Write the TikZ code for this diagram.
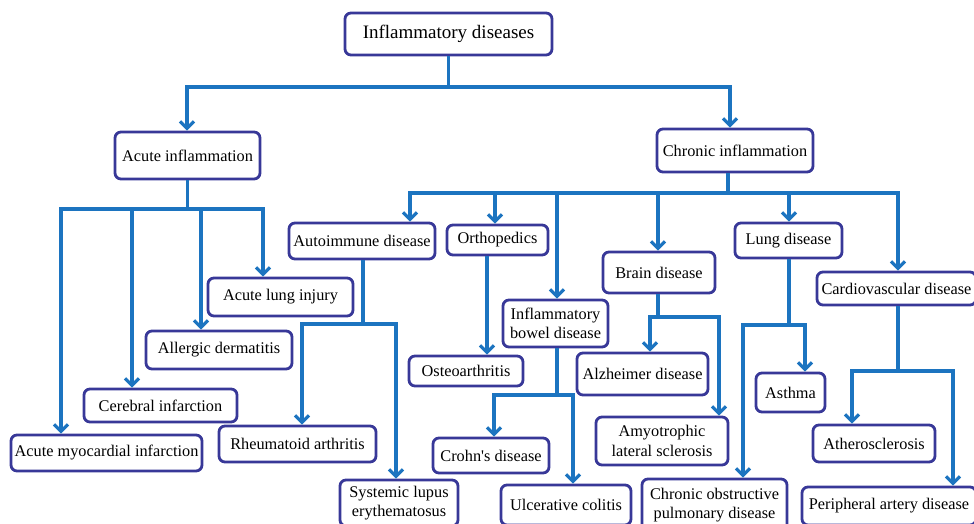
\documentclass[tikz,border=0pt]{standalone}
\usepackage{fontspec}
\setmainfont{Liberation Serif}
\usetikzlibrary{arrows.meta}
\definecolor{linkblue}{RGB}{28,116,192}
\definecolor{boxblue}{RGB}{56,56,152}
\tikzset{
  box/.style={draw=boxblue, line width=2.8pt, rounded corners=6pt, fill=white,
    inner sep=1pt, align=center, font=\fontsize{16.3}{19.5}\selectfont, text=black},
  conn/.style={draw=linkblue, line width=3.2pt},
  arr/.style={conn, -{Straight Barb[length=7pt,width=14pt]}},
  both/.style={conn, {Straight Barb[length=7pt,width=14pt]}-{Straight Barb[length=7pt,width=14pt]}}
}
\begin{document}
\begin{tikzpicture}[x=1pt,y=-1pt]
\useasboundingbox (0,0) rectangle (974,524);
\clip (0,0) rectangle (974,524);
% nodes
\node[box, minimum width=207pt, minimum height=42pt, font=\fontsize{19}{22}\selectfont] (top) at (448.5,34) {Inflammatory diseases};
\node[box, minimum width=145pt, minimum height=47pt] (acute) at (187.5,155.5) {Acute inflammation};
\node[box, minimum width=156pt, minimum height=43pt] (chronic) at (735,150.5) {Chronic inflammation};
\node[box, minimum width=146pt, minimum height=36pt] (auto) at (362,241) {Autoimmune disease};
\node[box, minimum width=101pt, minimum height=30pt] (ortho) at (497.5,240) {Orthopedics};
\node[box, minimum width=107pt, minimum height=35pt] (lung) at (788.5,240.5) {Lung disease};
\node[box, minimum width=112pt, minimum height=41pt] (brain) at (659,272.5) {Brain disease};
\node[box, minimum width=159pt, minimum height=33pt] (cardio) at (896.5,288.5) {Cardiovascular disease};
\node[box, minimum width=105pt, minimum height=47pt] (ibd) at (555.5,323.5) {Inflammatory\\bowel disease};
\node[box, minimum width=145pt, minimum height=38pt] (ali) at (280.5,297) {Acute lung injury};
\node[box, minimum width=146pt, minimum height=38pt] (allergic) at (219,350) {Allergic dermatitis};
\node[box, minimum width=153pt, minimum height=33pt] (cerebral) at (160.5,405.5) {Cerebral infarction};
\node[box, minimum width=191pt, minimum height=36pt] (ami) at (106.5,453) {Acute myocardial infarction};
\node[box, minimum width=157pt, minimum height=36pt] (rheum) at (297.5,444) {Rheumatoid arthritis};
\node[box, minimum width=118pt, minimum height=46pt] (lupus) at (399,503) {Systemic lupus\\erythematosus};
\node[box, minimum width=114pt, minimum height=30pt] (osteo) at (466,371) {Osteoarthritis};
\node[box, minimum width=116pt, minimum height=35pt] (crohn) at (491,455.5) {Crohn\textquotesingle s disease};
\node[box, minimum width=130pt, minimum height=40pt] (ulcer) at (566,505) {Ulcerative colitis};
\node[box, minimum width=131pt, minimum height=42pt] (alz) at (642.5,374) {Alzheimer disease};
\node[box, minimum width=132pt, minimum height=48pt] (als) at (662,441) {Amyotrophic\\lateral sclerosis};
\node[box, minimum width=69pt, minimum height=39pt] (asthma) at (790.5,392.5) {Asthma};
\node[box, minimum width=145pt, minimum height=52pt] (copd) at (714.5,505) {Chronic obstructive\\pulmonary disease};
\node[box, minimum width=122pt, minimum height=37pt] (athero) at (874,443.5) {Atherosclerosis};
\node[box, minimum width=174pt, minimum height=38pt] (pad) at (889,506) {Peripheral artery disease};
% junction coordinates
\coordinate (j0) at (448.5,87);
\coordinate (ja) at (187,87);
\coordinate (jc) at (730,87);
\coordinate (j1) at (186,209);
\coordinate (a1) at (61,209);
\coordinate (a2) at (132,209);
\coordinate (a3) at (201,209);
\coordinate (a4) at (263,209);
\coordinate (j2) at (728,193);
\coordinate (c1) at (410,193);
\coordinate (c2) at (495,193);
\coordinate (c3) at (557,193);
\coordinate (c4) at (658,193);
\coordinate (c5) at (789,193);
\coordinate (c6) at (898,193);
\coordinate (k0) at (363,324);
\coordinate (k1) at (302,324);
\coordinate (k2) at (396,324);
\coordinate (o0) at (487,255);
\coordinate (m0) at (557,395);
\coordinate (m1) at (494,395);
\coordinate (m2) at (573,395);
\coordinate (b0) at (658,317);
\coordinate (b1) at (650,317);
\coordinate (b2) at (719,317);
\coordinate (l0) at (789,325);
\coordinate (l1) at (743,325);
\coordinate (l2) at (805,325);
\coordinate (d0) at (898,371);
\coordinate (d1) at (852,371);
\coordinate (d2) at (953,371);
% top level
\draw[conn] (top.south) -- (j0);
\draw[both] (ja |- acute.north) -- (ja) -- (jc) -- (jc |- chronic.north);
% acute
\draw[conn] (acute.south) -- (acute.south |- j1);
\draw[both] (a1 |- ami.north) -- (a1) -- (a4) -- (a4 |- ali.north);
\draw[arr] (a2) -- (a2 |- cerebral.north);
\draw[arr] (a3) -- (a3 |- allergic.north);
% chronic
\draw[conn] (j2 |- chronic.south) -- (j2);
\draw[both] (c1 |- auto.north) -- (c1) -- (c6) -- (c6 |- cardio.north);
\draw[arr] (c2) -- (c2 |- ortho.north);
\draw[arr] (c3) -- (c3 |- ibd.north);
\draw[arr] (c4) -- (c4 |- brain.north);
\draw[arr] (c5) -- (c5 |- lung.north);
% autoimmune
\draw[conn] (k0 |- auto.south) -- (k0);
\draw[both] (k1 |- rheum.north) -- (k1) -- (k2) -- (k2 |- lupus.north);
% orthopedics
\draw[arr] (o0 |- ortho.south) -- (o0 |- osteo.north);
% ibd
\draw[conn] (m0 |- ibd.south) -- (m0);
\draw[both] (m1 |- crohn.north) -- (m1) -- (m2) -- (m2 |- ulcer.north);
% brain
\draw[conn] (b0 |- brain.south) -- (b0);
\draw[both] (b1 |- alz.north) -- (b1) -- (b2) -- (b2 |- als.north);
% lung
\draw[conn] (l0 |- lung.south) -- (l0);
\draw[both] (l1 |- copd.north) -- (l1) -- (l2) -- (l2 |- asthma.north);
% cardio
\draw[conn] (d0 |- cardio.south) -- (d0);
\draw[both] (d1 |- athero.north) -- (d1) -- (d2) -- (d2 |- pad.north);
\end{tikzpicture}
\end{document}
